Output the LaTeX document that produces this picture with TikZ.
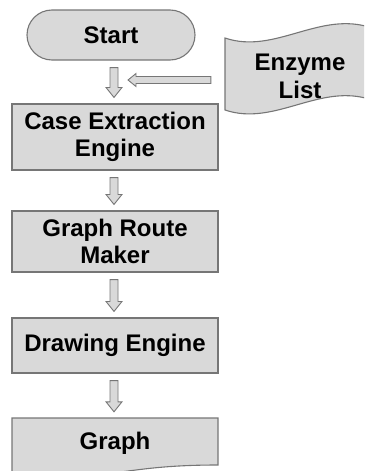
\documentclass[tikz,border=0pt]{standalone}
\usepackage{fontspec}
\setmainfont{Liberation Sans}
\usetikzlibrary{calc}
\definecolor{boxfill}{HTML}{D9D9D9}
\definecolor{boxline}{HTML}{767676}
\tikzset{
  shapeline/.style={draw=boxline, fill=boxfill, line width=1.1pt},
  txt/.style={font=\fontsize{24}{27.5}\selectfont\bfseries, align=center, text=black, inner sep=0pt},
  stepbox/.style={shapeline, txt, rectangle, minimum width=206pt},
  terminal/.style={shapeline, txt, rectangle, rounded corners=25pt,
    minimum width=168pt, minimum height=50pt},
  % hollow block arrow pointing down, centred 1px left of the target's x
  blockdown/.style={shapeline, line width=0.9pt, to path={
    ($(\tikztostart -| \tikztotarget)+(-5,7)$) -- ($(\tikztotarget)+(-5,-16)$)
    -- ($(\tikztotarget)+(-9,-16)$) -- ($(\tikztotarget)+(-1,-6)$)
    -- ($(\tikztotarget)+(7,-16)$) -- ($(\tikztotarget)+(3,-16)$)
    -- ($(\tikztostart -| \tikztotarget)+(3,7)$) -- cycle}},
  % hollow block arrow pointing left
  blockleft/.style={shapeline, line width=0.9pt, to path={
    ($(\tikztostart)+(0,-3.5)$) -- ($(\tikztotarget)+(8,-3.5)$)
    -- ($(\tikztotarget)+(8,-6.5)$) -- (\tikztotarget)
    -- ($(\tikztotarget)+(8,6.5)$) -- ($(\tikztotarget)+(8,3.5)$)
    -- ($(\tikztostart)+(0,3.5)$) -- cycle}},
}
\begin{document}
\begin{tikzpicture}[x=1pt, y=-1pt]
  \useasboundingbox (0,0) rectangle (364,471);
  \clip (0,0) rectangle (364,471);

  % punched-tape input shape
  \draw[shapeline] (225,38) .. controls (275,55) and (320,10) .. (372,28)
    -- (372,100) .. controls (320,82) and (275,127) .. (225,110) -- cycle;

  % document output shape
  \draw[shapeline] (12,418) -- (218,418) -- (218,465)
    .. controls (115,465) and (115,483) .. (12,472.7) -- cycle;

  % flow steps
  \node[terminal] (start) at (111,35) {Start};
  \node[stepbox, minimum height=66pt] (case) at (115,137) {Case Extraction\\Engine};
  \node[stepbox, minimum height=61pt] (route) at (115,241.5) {Graph Route\\Maker};
  \node[stepbox, minimum height=55pt] (drawing) at (115,345.5) {Drawing Engine};
  \node[txt, minimum width=206pt, minimum height=50pt] (graph) at (115,443) {Graph};
  \node[txt, minimum width=150pt, minimum height=72pt] (enzyme) at (300,76.5) {Enzyme\\List};

  % connectors
  \draw[blockdown] (start.south) to (case.north);
  \draw[blockdown] (case.south) to (route.north);
  \draw[blockdown] (route.south) to (drawing.north);
  \draw[blockdown] (drawing.south) to (graph.north);

  \coordinate (join) at (128,80);
  \coordinate (tapetail) at ($(enzyme.west)+(-14,3.5)$);
  \draw[blockleft] (tapetail) to (join);
\end{tikzpicture}
\end{document}
